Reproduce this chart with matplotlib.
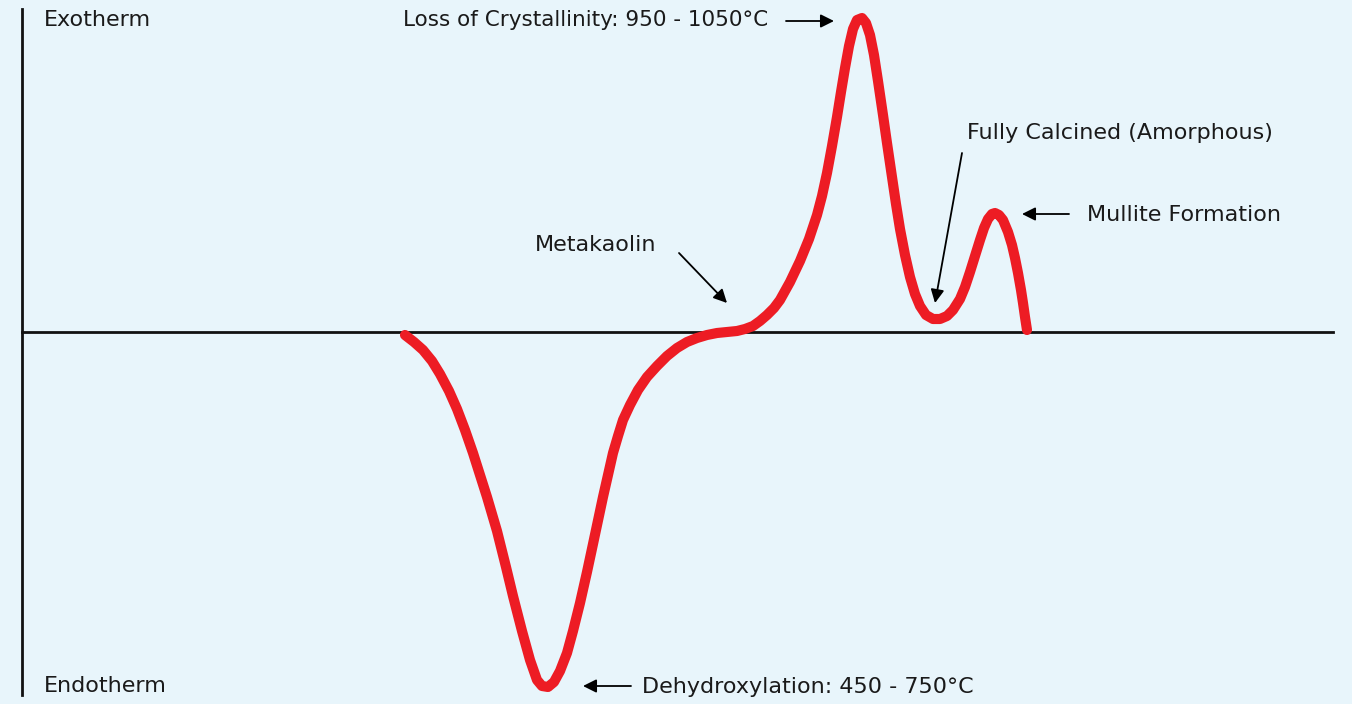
import matplotlib
matplotlib.use("Agg")
import matplotlib.pyplot as plt

# Schematic DTA curve of kaolin (x: temperature position, y: heat flow, arbitrary units)
temperature = [405, 414, 423, 432, 440, 449, 457, 465, 473, 480, 487, 492, 497, 506,
               513, 522, 530, 537, 542, 548, 554, 560, 567, 573, 580, 587, 593, 603,
               608, 613, 618, 623, 630, 638, 647, 657, 667, 677, 687, 697,
               707, 717, 727, 737, 745, 753, 760, 767, 774, 780, 790, 800, 809, 817,
               822, 827, 832, 837, 841, 845, 849, 853, 857, 862, 866, 870, 874, 878,
               883, 887, 892, 896, 900, 905, 910, 915, 920, 926, 933, 940, 947, 953,
               960, 965, 970, 975, 980, 984, 988, 992, 995, 999, 1003, 1008, 1012,
               1015, 1018, 1021, 1023, 1025, 1027]
heat_flow = [-3, -10, -18, -29, -42, -59, -77, -98, -121, -143, -165, -182, -199, -235,
             -264, -299, -328, -348, -354, -355, -350, -339, -321, -299, -271, -240, -212, -165,
             -143, -121, -104, -88, -73, -58, -45, -34, -24, -16, -10, -6,
             -3, -1, 0, 1, 3, 6, 11, 17, 24, 32, 50, 71, 93, 117,
             136, 159, 186, 215, 240, 264, 286, 303, 312, 314, 309, 297, 277, 251,
             217, 189, 155, 128, 103, 77, 55, 38, 26, 17, 13, 13, 16, 22,
             33, 45, 60, 76, 92, 104, 113, 118, 119, 117, 112, 100, 87,
             74, 59, 42, 29, 15, 2]

BG = "#e8f5fb"
RED = "#ed1c24"
TXT = "#1a1a1a"

fig = plt.figure(figsize=(13.52, 7.04), dpi=100, facecolor=BG)
ax = fig.add_axes([0, 0, 1, 1], facecolor=BG)
ax.set_xlim(0, 1352)
ax.set_ylim(-372, 332)

ax.plot(temperature, heat_flow, color=RED, lw=7.3, solid_capstyle="round",
        solid_joinstyle="round", antialiased=True, zorder=3)

# axes lines
for s in ["top", "right"]:
    ax.spines[s].set_visible(False)
ax.spines["left"].set_position(("data", 22))
ax.spines["left"].set_bounds(-363, 323)
ax.spines["bottom"].set_position(("data", 0))
ax.spines["bottom"].set_bounds(22, 1333)
for s in ["left", "bottom"]:
    ax.spines[s].set_linewidth(2)
    ax.spines[s].set_color("#111111")
ax.set_xticks([])
ax.set_yticks([])

font = dict(family="DejaVu Sans", color=TXT, va="center", ha="left")

ax.text(44, 312, "Exotherm", fontsize=16, **font)
ax.text(44, -354, "Endotherm", fontsize=16, **font)

arrow = dict(arrowstyle="-|>", color="black", lw=1.3, mutation_scale=20,
             shrinkA=0, shrinkB=0)

labels = ["Loss of Crystallinity: 950 - 1050°C", "Metakaolin",
          "Fully Calcined (Amorphous)", "Mullite Formation",
          "Dehydroxylation: 450 - 750°C"]
label_size = [15.5, 16, 16, 16, 16]
label_pos = [(403, 312), (535, 87), (967, 199), (1087, 117), (642, -355)]
arrow_tail = [(786, 311), (679, 79), (962, 179), (1069, 118), (631, -354)]
arrow_tip = [(834, 311), (727, 29), (935, 29), (1022, 118), (583, -354)]

for lab, sz, p, t, h in zip(labels, label_size, label_pos, arrow_tail, arrow_tip):
    ax.text(p[0], p[1], lab, fontsize=sz, **font)
    ax.annotate("", xy=h, xytext=t, arrowprops=arrow)

fig.savefig("out.png", dpi=100, facecolor=BG)
